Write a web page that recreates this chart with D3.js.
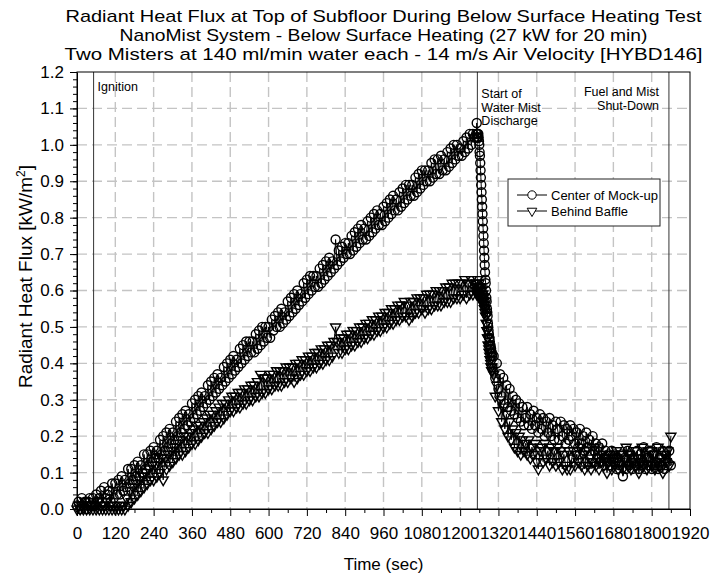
<!DOCTYPE html>
<html>
<head>
<meta charset="utf-8">
<script src="https://cdn.jsdelivr.net/npm/d3@7"></script>
<style>
  body { margin: 0; background: #fff; }
  text { font-family: Arial, "Liberation Sans", sans-serif; fill: #000; }
</style>
</head>
<body>
<div id="chart"></div>
<script>
// titles (width in px each line takes in the original)
const titleLines = [
  "Radiant Heat Flux at Top of Subfloor During Below Surface Heating Test",
  "NanoMist System - Below Surface Heating (27 kW for 20 min)",
  "Two Misters at 140 ml/min water each - 14 m/s Air Velocity [HYBD146]"
];
const titleWidths = [636, 528, 638];
const seriesNames = ["Center of Mock-up", "Behind Baffle"];

// time (sec): 5 s steps, 1 s steps during the drop
const timeSec = [
  0, 5, 10, 15, 20, 25, 30, 35, 40, 45,
  50, 55, 60, 65, 70, 75, 80, 85, 90, 95,
  100, 105, 110, 115, 120, 125, 130, 135, 140, 145,
  150, 155, 160, 165, 170, 175, 180, 185, 190, 195,
  200, 205, 210, 215, 220, 225, 230, 235, 240, 245,
  250, 255, 260, 265, 270, 275, 280, 285, 290, 295,
  300, 305, 310, 315, 320, 325, 330, 335, 340, 345,
  350, 355, 360, 365, 370, 375, 380, 385, 390, 395,
  400, 405, 410, 415, 420, 425, 430, 435, 440, 445,
  450, 455, 460, 465, 470, 475, 480, 485, 490, 495,
  500, 505, 510, 515, 520, 525, 530, 535, 540, 545,
  550, 555, 560, 565, 570, 575, 580, 585, 590, 595,
  600, 605, 610, 615, 620, 625, 630, 635, 640, 645,
  650, 655, 660, 665, 670, 675, 680, 685, 690, 695,
  700, 705, 710, 715, 720, 725, 730, 735, 740, 745,
  750, 755, 760, 765, 770, 775, 780, 785, 790, 795,
  800, 805, 810, 815, 820, 825, 830, 835, 840, 845,
  850, 855, 860, 865, 870, 875, 880, 885, 890, 895,
  900, 905, 910, 915, 920, 925, 930, 935, 940, 945,
  950, 955, 960, 965, 970, 975, 980, 985, 990, 995,
  1000, 1005, 1010, 1015, 1020, 1025, 1030, 1035, 1040, 1045,
  1050, 1055, 1060, 1065, 1070, 1075, 1080, 1085, 1090, 1095,
  1100, 1105, 1110, 1115, 1120, 1125, 1130, 1135, 1140, 1145,
  1150, 1155, 1160, 1165, 1170, 1175, 1180, 1185, 1190, 1195,
  1200, 1205, 1210, 1215, 1220, 1225, 1230, 1235, 1240, 1245,
  1250, 1251, 1252, 1253, 1254, 1255, 1256, 1257, 1258, 1259,
  1260, 1261, 1262, 1263, 1264, 1265, 1266, 1267, 1268, 1269,
  1270, 1271, 1272, 1273, 1274, 1275, 1276, 1277, 1278, 1279,
  1280, 1281, 1282, 1283, 1284, 1285, 1286, 1287, 1288, 1289,
  1290, 1291, 1292, 1293, 1294, 1295, 1296, 1297, 1298, 1299,
  1300,
  1305, 1310, 1315, 1320, 1325, 1330, 1335, 1340, 1345, 1350,
  1355, 1360, 1365, 1370, 1375, 1380, 1385, 1390, 1395, 1400,
  1405, 1410, 1415, 1420, 1425, 1430, 1435, 1440, 1445, 1450,
  1455, 1460, 1465, 1470, 1475, 1480, 1485, 1490, 1495, 1500,
  1505, 1510, 1515, 1520, 1525, 1530, 1535, 1540, 1545, 1550,
  1555, 1560, 1565, 1570, 1575, 1580, 1585, 1590, 1595, 1600,
  1605, 1610, 1615, 1620, 1625, 1630, 1635, 1640, 1645, 1650,
  1655, 1660, 1665, 1670, 1675, 1680, 1685, 1690, 1695, 1700,
  1705, 1710, 1715, 1720, 1725, 1730, 1735, 1740, 1745, 1750,
  1755, 1760, 1765, 1770, 1775, 1780, 1785, 1790, 1795, 1800,
  1805, 1810, 1815, 1820, 1825, 1830, 1835, 1840, 1845, 1850,
  1855, 1860
];

// Center of Mock-up [kW/m2]
const centerFlux = [
  0.01, 0.02, 0.00, 0.03, 0.01, 0.02, 0.00, 0.02, 0.03, 0.01,
  0.03, 0.01, 0.04, 0.02, 0.03, 0.05, 0.02, 0.06, 0.03, 0.04,
  0.05, 0.02, 0.07, 0.03, 0.07, 0.04, 0.08, 0.04, 0.09, 0.05,
  0.08, 0.06, 0.11, 0.07, 0.11, 0.08, 0.12, 0.09, 0.13, 0.09,
  0.12, 0.10, 0.15, 0.11, 0.15, 0.12, 0.16, 0.13, 0.17, 0.14,
  0.16, 0.14, 0.19, 0.15, 0.20, 0.16, 0.21, 0.17, 0.22, 0.18,
  0.21, 0.19, 0.24, 0.20, 0.25, 0.21, 0.26, 0.22, 0.27, 0.23,
  0.26, 0.24, 0.29, 0.25, 0.30, 0.26, 0.31, 0.27, 0.32, 0.28,
  0.31, 0.29, 0.34, 0.30, 0.35, 0.31, 0.36, 0.32, 0.37, 0.33,
  0.36, 0.34, 0.39, 0.35, 0.40, 0.36, 0.41, 0.37, 0.42, 0.38,
  0.41, 0.39, 0.44, 0.40, 0.45, 0.41, 0.46, 0.42, 0.46, 0.43,
  0.46, 0.43, 0.48, 0.44, 0.49, 0.45, 0.50, 0.46, 0.50, 0.47,
  0.50, 0.47, 0.52, 0.49, 0.53, 0.50, 0.54, 0.50, 0.55, 0.51,
  0.54, 0.52, 0.57, 0.53, 0.58, 0.54, 0.59, 0.55, 0.60, 0.56,
  0.59, 0.57, 0.62, 0.58, 0.63, 0.59, 0.64, 0.60, 0.64, 0.61,
  0.64, 0.61, 0.66, 0.62, 0.67, 0.63, 0.68, 0.64, 0.69, 0.65,
  0.68, 0.66, 0.74, 0.67, 0.71, 0.68, 0.72, 0.69, 0.73, 0.70,
  0.73, 0.70, 0.75, 0.71, 0.76, 0.72, 0.77, 0.73, 0.78, 0.74,
  0.77, 0.74, 0.79, 0.75, 0.80, 0.76, 0.81, 0.77, 0.82, 0.78,
  0.81, 0.78, 0.83, 0.79, 0.84, 0.80, 0.85, 0.81, 0.86, 0.82,
  0.85, 0.82, 0.87, 0.83, 0.88, 0.84, 0.89, 0.85, 0.89, 0.86,
  0.89, 0.86, 0.91, 0.87, 0.92, 0.88, 0.93, 0.89, 0.93, 0.90,
  0.93, 0.90, 0.95, 0.91, 0.96, 0.92, 0.96, 0.92, 0.97, 0.93,
  0.96, 0.93, 0.98, 0.94, 0.99, 0.95, 1.00, 0.96, 1.00, 0.97,
  0.99, 0.97, 1.01, 0.98, 1.02, 0.99, 1.03, 1.00, 1.03, 1.02,
  1.03, 1.02, 1.06, 1.03, 1.02, 1.03, 1.02, 1.03, 1.02, 1.01,
  1.00, 0.98, 0.97, 0.95, 0.93, 0.91, 0.89, 0.87, 0.85, 0.83,
  0.81, 0.79, 0.77, 0.75, 0.73, 0.71, 0.69, 0.67, 0.65, 0.63,
  0.62, 0.60, 0.58, 0.57, 0.55, 0.54, 0.53, 0.51, 0.50, 0.49,
  0.48, 0.47, 0.47, 0.46, 0.45, 0.45, 0.44, 0.44, 0.43, 0.43,
  0.42,
  0.42, 0.36, 0.40, 0.33, 0.37, 0.31, 0.36, 0.29, 0.34, 0.28,
  0.33, 0.27, 0.31, 0.26, 0.30, 0.25, 0.29, 0.24, 0.28, 0.23,
  0.25, 0.28, 0.23, 0.26, 0.22, 0.27, 0.23, 0.25, 0.21, 0.26,
  0.22, 0.25, 0.20, 0.24, 0.21, 0.25, 0.20, 0.23, 0.19, 0.24,
  0.22, 0.19, 0.24, 0.20, 0.23, 0.18, 0.22, 0.19, 0.23, 0.20,
  0.22, 0.18, 0.21, 0.17, 0.22, 0.18, 0.20, 0.16, 0.21, 0.17,
  0.19, 0.15, 0.20, 0.16, 0.18, 0.14, 0.17, 0.13, 0.18, 0.14,
  0.16, 0.13, 0.15, 0.12, 0.16, 0.13, 0.15, 0.11, 0.14, 0.12,
  0.15, 0.09, 0.14, 0.11, 0.16, 0.12, 0.15, 0.11, 0.14, 0.12,
  0.16, 0.11, 0.15, 0.12, 0.17, 0.11, 0.14, 0.12, 0.16, 0.11,
  0.15, 0.12, 0.17, 0.11, 0.14, 0.12, 0.16, 0.11, 0.15, 0.13,
  0.16, 0.12
];

// Behind Baffle [kW/m2]
const baffleFlux = [
  0.00, 0.01, 0.00, 0.01, 0.00, 0.02, 0.00, 0.01, 0.00, 0.01,
  0.00, 0.01, 0.00, 0.02, 0.00, 0.01, 0.00, 0.01, 0.00, 0.02,
  0.00, 0.01, 0.00, 0.01, 0.00, 0.01, 0.00, 0.01, 0.00, 0.01,
  0.00, 0.03, 0.01, 0.05, 0.02, 0.06, 0.03, 0.07, 0.04, 0.08,
  0.05, 0.09, 0.06, 0.10, 0.07, 0.11, 0.08, 0.12, 0.08, 0.12,
  0.09, 0.13, 0.10, 0.14, 0.08, 0.14, 0.11, 0.15, 0.12, 0.16,
  0.13, 0.17, 0.14, 0.18, 0.15, 0.19, 0.15, 0.20, 0.16, 0.20,
  0.17, 0.21, 0.18, 0.22, 0.18, 0.23, 0.19, 0.23, 0.20, 0.24,
  0.21, 0.25, 0.21, 0.26, 0.22, 0.26, 0.23, 0.27, 0.24, 0.28,
  0.24, 0.29, 0.25, 0.29, 0.26, 0.30, 0.27, 0.31, 0.27, 0.31,
  0.28, 0.32, 0.28, 0.32, 0.29, 0.33, 0.29, 0.33, 0.30, 0.34,
  0.30, 0.34, 0.31, 0.35, 0.31, 0.37, 0.32, 0.36, 0.32, 0.36,
  0.33, 0.37, 0.33, 0.37, 0.34, 0.38, 0.34, 0.38, 0.34, 0.38,
  0.35, 0.39, 0.35, 0.39, 0.36, 0.39, 0.35, 0.40, 0.36, 0.40,
  0.37, 0.41, 0.37, 0.41, 0.38, 0.42, 0.38, 0.42, 0.39, 0.43,
  0.39, 0.43, 0.40, 0.44, 0.40, 0.44, 0.41, 0.45, 0.41, 0.45,
  0.42, 0.46, 0.50, 0.46, 0.43, 0.47, 0.43, 0.47, 0.44, 0.48,
  0.44, 0.48, 0.45, 0.49, 0.45, 0.49, 0.46, 0.50, 0.46, 0.50,
  0.47, 0.51, 0.47, 0.51, 0.48, 0.52, 0.48, 0.52, 0.49, 0.53,
  0.49, 0.53, 0.50, 0.54, 0.50, 0.54, 0.51, 0.55, 0.51, 0.55,
  0.52, 0.56, 0.52, 0.56, 0.53, 0.57, 0.53, 0.56, 0.52, 0.57,
  0.53, 0.57, 0.54, 0.58, 0.54, 0.58, 0.55, 0.58, 0.54, 0.59,
  0.55, 0.59, 0.55, 0.59, 0.56, 0.60, 0.56, 0.60, 0.56, 0.60,
  0.57, 0.61, 0.57, 0.61, 0.57, 0.62, 0.58, 0.62, 0.58, 0.62,
  0.58, 0.62, 0.59, 0.63, 0.58, 0.62, 0.59, 0.63, 0.59, 0.62,
  0.60, 0.62, 0.59, 0.61, 0.60, 0.63, 0.59, 0.61, 0.60, 0.62,
  0.59, 0.61, 0.58, 0.60, 0.59, 0.61, 0.58, 0.60, 0.57, 0.59,
  0.58, 0.59, 0.57, 0.58, 0.56, 0.57, 0.55, 0.56, 0.54, 0.55,
  0.53, 0.53, 0.51, 0.51, 0.49, 0.49, 0.47, 0.47, 0.45, 0.45,
  0.44, 0.43, 0.43, 0.42, 0.41, 0.41, 0.40, 0.39, 0.39, 0.38,
  0.38,
  0.37, 0.31, 0.34, 0.27, 0.30, 0.24, 0.28, 0.22, 0.26, 0.20,
  0.24, 0.19, 0.22, 0.17, 0.21, 0.16, 0.20, 0.15, 0.19, 0.16,
  0.18, 0.15, 0.19, 0.14, 0.17, 0.15, 0.18, 0.13, 0.11, 0.16,
  0.17, 0.13, 0.18, 0.14, 0.16, 0.12, 0.17, 0.13, 0.16, 0.12,
  0.17, 0.13, 0.16, 0.11, 0.15, 0.12, 0.11, 0.16, 0.11, 0.14,
  0.16, 0.12, 0.15, 0.13, 0.17, 0.12, 0.15, 0.11, 0.16, 0.12,
  0.14, 0.11, 0.13, 0.17, 0.12, 0.14, 0.11, 0.13, 0.15, 0.12,
  0.14, 0.10, 0.13, 0.15, 0.11, 0.14, 0.12, 0.16, 0.11, 0.13,
  0.15, 0.11, 0.14, 0.17, 0.12, 0.15, 0.11, 0.13, 0.16, 0.12,
  0.14, 0.10, 0.13, 0.17, 0.12, 0.15, 0.11, 0.14, 0.16, 0.12,
  0.15, 0.11, 0.13, 0.17, 0.12, 0.14, 0.10, 0.15, 0.13, 0.16,
  0.12, 0.20
];

// event markers (sec) and their notes
const eventTimes = [52, 1254, 1854];
const eventNotes = [
  ["Ignition"],
  ["Start of", "Water Mist", "Discharge"],
  ["Fuel and Mist", "Shut-Down"]
];

// dimensions
const margin = {top: 72, right: 20, bottom: 66, left: 77},
  width = 710 - margin.left - margin.right,
  height = 575 - margin.top - margin.bottom;

const svg = d3.select("#chart")
  .append("svg")
  .attr("width", 710)
  .attr("height", 575)
  .append("g")
  .attr("transform", `translate(${margin.left},${margin.top})`);

const x = d3.scaleLinear().domain([0, 1920]).range([0, width]);
const y = d3.scaleLinear().domain([0, 1.2]).range([height, 0]);

// dashed grid
svg.append("g")
  .selectAll("line")
  .data(d3.range(120, 1920, 120))
  .join("line")
    .attr("x1", d => x(d)).attr("x2", d => x(d))
    .attr("y1", 0).attr("y2", height)
    .attr("stroke", "#c4c4c4").attr("stroke-width", 1.4)
    .attr("stroke-dasharray", "10,5");
svg.append("g")
  .selectAll("line")
  .data(d3.range(1, 12).map(i => i / 10))
  .join("line")
    .attr("x1", 0).attr("x2", width)
    .attr("y1", d => y(d)).attr("y2", d => y(d))
    .attr("stroke", "#c4c4c4").attr("stroke-width", 1.4)
    .attr("stroke-dasharray", "10,5");

// event lines
svg.append("g")
  .selectAll("line")
  .data(eventTimes)
  .join("line")
    .attr("x1", d => x(d)).attr("x2", d => x(d))
    .attr("y1", 0).attr("y2", height)
    .attr("stroke", "#333").attr("stroke-width", 1);

// axes: minor ticks then major ticks with labels
svg.append("g")
  .attr("transform", `translate(0,${height})`)
  .call(d3.axisBottom(x).tickValues(d3.range(60, 1920, 120)).tickSize(4).tickFormat(""))
  .call(g => g.select(".domain").remove());
svg.append("g")
  .attr("transform", `translate(0,${height})`)
  .call(d3.axisBottom(x).tickValues(d3.range(0, 1921, 120)).tickFormat(d3.format("d")).tickSize(7).tickPadding(11).tickSizeOuter(0))
  .call(g => g.selectAll("text").style("font-size", "17px"));

svg.append("g")
  .call(d3.axisLeft(y).tickValues(d3.range(0, 61).map(i => i / 50)).tickSize(4).tickFormat(""))
  .call(g => g.select(".domain").remove());
svg.append("g")
  .call(d3.axisLeft(y).tickValues(d3.range(0, 13).map(i => i / 10)).tickFormat(d3.format(".1f")).tickSize(7).tickPadding(6).tickSizeOuter(0))
  .call(g => g.selectAll("text").style("font-size", "17px"));

// frame
svg.append("rect")
  .attr("width", width).attr("height", height)
  .attr("fill", "none").attr("stroke", "#000").attr("stroke-width", 1);

// data
const rows = timeSec.map((t, i) => ({t: t, c: centerFlux[i], b: baffleFlux[i]}));
const tri = d3.symbol().type(d3.symbolTriangle).size(44);

svg.append("path")
  .datum(rows)
  .attr("fill", "none").attr("stroke", "#000").attr("stroke-width", 1)
  .attr("d", d3.line().x(d => x(d.t)).y(d => y(d.b)));
svg.append("g")
  .selectAll("path")
  .data(rows)
  .join("path")
    .attr("d", tri)
    .attr("transform", d => `translate(${x(d.t)},${y(d.b)}) rotate(180)`)
    .attr("fill", "none").attr("stroke", "#000").attr("stroke-width", 1.4);

svg.append("path")
  .datum(rows)
  .attr("fill", "none").attr("stroke", "#000").attr("stroke-width", 1)
  .attr("d", d3.line().x(d => x(d.t)).y(d => y(d.c)));
svg.append("g")
  .selectAll("circle")
  .data(rows)
  .join("circle")
    .attr("cx", d => x(d.t))
    .attr("cy", d => y(d.c))
    .attr("r", 4.5)
    .attr("fill", "none").attr("stroke", "#000").attr("stroke-width", 1.4);

// event notes
eventNotes.forEach(function(lines, i) {
  const right = i == 2;
  const tx = right ? x(eventTimes[i]) - 10 : x(eventTimes[i]) + 4;
  svg.append("text")
    .attr("x", tx)
    .attr("y", i == 0 ? 19 : (i == 1 ? 26 : 24))
    .attr("text-anchor", right ? "end" : "start")
    .style("font-size", "12.5px")
    .selectAll("tspan")
    .data(lines)
    .join("tspan")
      .attr("x", tx)
      .attr("dy", (d, j) => j == 0 ? 0 : 13.5)
      .text(d => d);
});

// legend
const leg = svg.append("g").attr("transform", `translate(${508 - margin.left},${179 - margin.top})`);
leg.append("rect")
  .attr("width", 152).attr("height", 47)
  .attr("fill", "#fff").attr("stroke", "#222").attr("stroke-width", 1);
seriesNames.forEach(function(name, i) {
  const ly = 16 + i * 16;
  leg.append("line").attr("x1", 9).attr("x2", 39).attr("y1", ly).attr("y2", ly)
    .attr("stroke", "#000").attr("stroke-width", 1);
  if (i == 0) {
    leg.append("circle").attr("cx", 24).attr("cy", ly).attr("r", 4.2)
      .attr("fill", "#fff").attr("stroke", "#000");
  } else {
    leg.append("path").attr("d", d3.symbol().type(d3.symbolTriangle).size(40))
      .attr("transform", `translate(24,${ly}) rotate(180)`)
      .attr("fill", "#fff").attr("stroke", "#000");
  }
  leg.append("text").attr("x", 43).attr("y", ly).attr("dy", "0.35em")
    .style("font-size", "13px").text(name);
});

// titles
svg.append("g")
  .selectAll("text")
  .data(titleLines)
  .join("text")
    .attr("x", width / 2)
    .attr("y", (d, i) => -50 + i * 19)
    .attr("text-anchor", "middle")
    .attr("textLength", (d, i) => titleWidths[i])
    .attr("lengthAdjust", "spacingAndGlyphs")
    .style("font-size", "17px")
    .text(d => d);

svg.append("text")
  .attr("x", width / 2).attr("y", height + 61)
  .attr("text-anchor", "middle")
  .style("font-size", "17px")
  .text("Time (sec)");

const yl = svg.append("text")
  .attr("transform", `translate(-45,${height / 2 - 14}) rotate(-90)`)
  .attr("text-anchor", "middle")
  .style("font-size", "19px");
yl.append("tspan").text("Radiant Heat Flux [kW/m");
yl.append("tspan").attr("baseline-shift", "super").style("font-size", "12px").text("2");
yl.append("tspan").text("]");
</script>
</body>
</html>
